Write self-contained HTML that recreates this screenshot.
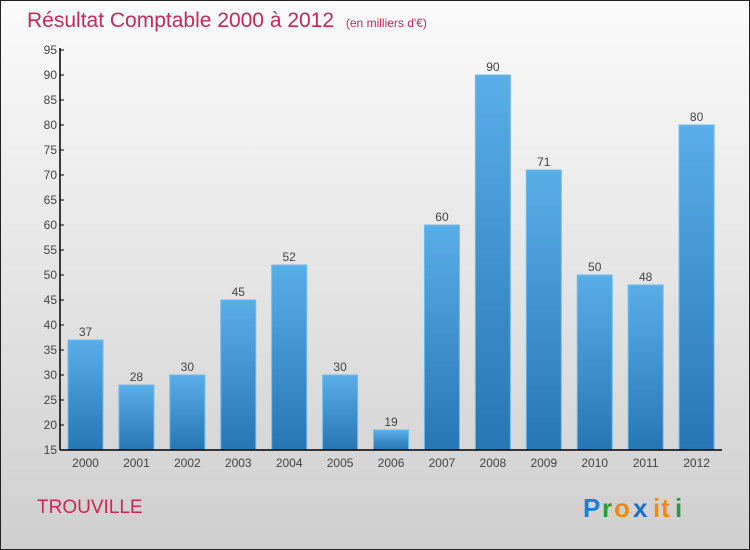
<!DOCTYPE html>
<html><head><meta charset="utf-8"><style>
body{margin:0}
#c{position:relative;width:748px;height:548px;border:1px solid #222;background:linear-gradient(#fbfbfb,#cfcfcf);font-family:"Liberation Sans",sans-serif;overflow:hidden}
</style></head><body>
<div id="c">
<svg width="748" height="548" id="s">
<defs><linearGradient id="g" x1="0" y1="0" x2="0" y2="1"><stop offset="0" stop-color="#5aaee8"/><stop offset="1" stop-color="#2676b4"/></linearGradient></defs>
<text x="26" y="26" font-size="21" fill="#c8285a">Résultat Comptable 2000 à 2012 <tspan font-size="12" dx="6">(en milliers d'€)</tspan></text>
<text x="36" y="512" font-size="19" fill="#c8285a">TROUVILLE</text>
<g font-size="26" font-weight="bold" font-family="'Liberation Sans',sans-serif">
<text x="582" y="516" fill="#1a7fd8">P</text><text x="601" y="516" fill="#2a9a3a">r</text><text x="613" y="516" fill="#f28a10">o</text><text x="632" y="516" fill="#1a6fc8">x</text><text x="652" y="516" fill="#f28a10">i</text><text x="660" y="516" fill="#f28a10">t</text><text x="674" y="516" fill="#2a9a3a">i</text>
</g>
<g id="bars"></g><g id="axes"></g>
</svg></div>
<script>
const years=["2000","2001","2002","2003","2004","2005","2006","2007","2008","2009","2010","2011","2012"];
const values=[37,28,30,45,52,30,19,60,90,71,50,48,80];
const yTicks=[15,20,25,30,35,40,45,50,55,60,65,70,75,80,85,90,95];
const NS="http://www.w3.org/2000/svg";
const x0=59,x1=721,yMin=15,yMax=95,yb=449,yt=49;
const band=(x1-x0)/years.length;
const y=v=>yb-(v-yMin)/(yMax-yMin)*(yb-yt);
const bx=i=>x0+i*band+8;
function mk(t,a,p){const e=document.createElementNS(NS,t);for(const k in a)e.setAttribute(k,a[k]);p.appendChild(e);return e;}
const B=document.getElementById('bars'),A=document.getElementById('axes');
values.forEach((v,i)=>{
 const r=mk('rect',{x:bx(i),y:y(v),width:35,height:yb-y(v),fill:'url(#g)',stroke:'#6bbcf0','stroke-width':1},B);
 
 
 const t=mk('text',{x:bx(i)+17.5,y:y(v)-4,'font-size':12,fill:'#444','text-anchor':'middle'},B);t.textContent=v;
 
 
 const xl=mk('text',{x:bx(i)+17.5,y:466,'font-size':12,fill:'#444','text-anchor':'middle'},A);xl.textContent=years[i];
 
 
});
const ya=mk('line',{x1:x0,y1:yt-2,x2:x0,y2:yb,stroke:'#000','stroke-width':1.5},A);


const xa=mk('line',{x1:x0,y1:yb,x2:x1,y2:yb,stroke:'#000','stroke-width':1.5},A);


yTicks.forEach(v=>{
 mk('line',{x1:x0,y1:y(v),x2:x0+4,y2:y(v),stroke:'#000'},A);
 const t=mk('text',{x:x0-3,y:y(v)+4,'font-size':12,fill:'#444','text-anchor':'end'},A);t.textContent=v;
 
 
});
</script>
</body></html>
